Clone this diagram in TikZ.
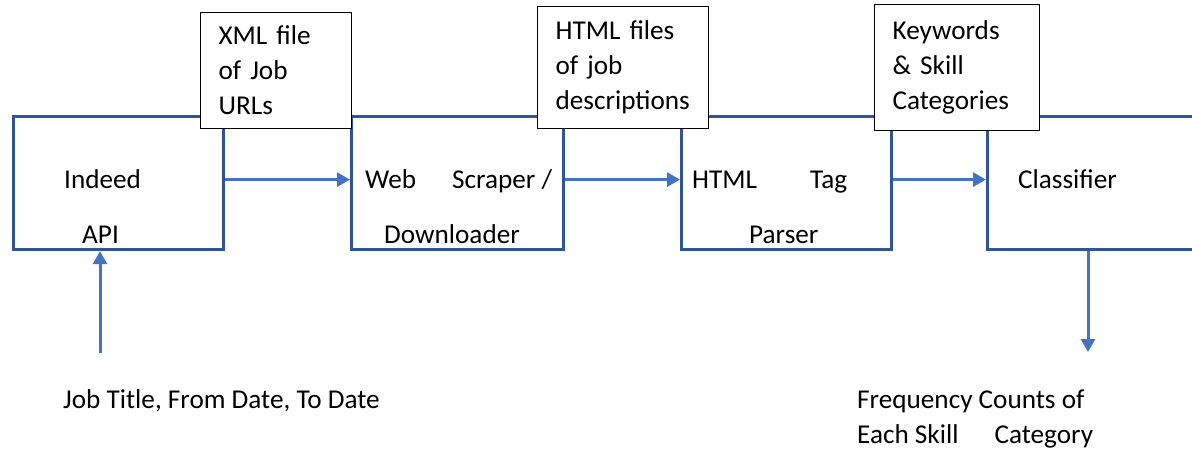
\documentclass[tikz,border=0pt]{standalone}
\usepackage{fontspec}
\setmainfont{Carlito}
\usepackage{xcolor}
\usetikzlibrary{arrows.meta}
\definecolor{boxblue}{HTML}{2F5597}
\definecolor{flowblue}{HTML}{4472C4}

\begin{document}
\begin{tikzpicture}[x=1pt, y=-1pt, font=\fontsize{27.2}{35}\selectfont,
      procbox/.style={draw=boxblue, line width=3.2pt, anchor=north west,
        minimum height=133pt, inner sep=0pt},
      labelbox/.style={draw=black, line width=1.2pt, fill=white, anchor=north west,
        align=left, inner xsep=18pt, inner ysep=0pt},
      flow/.style={draw=flowblue, line width=3pt, -{Triangle[length=13pt, width=14pt]}},
      word/.style={anchor=base west, inner sep=0pt}]
    \clip (0,0) rectangle (1192,450);
    \fill[white] (0,0) rectangle (1192,450);
    % processing stages
    \node[procbox, minimum width=210pt] (api) at (12,115) {};
    \node[procbox, minimum width=212pt] (scraper) at (350,115) {};
    \node[procbox, minimum width=210pt] (parser) at (680,115) {};
    \node[procbox, minimum width=240pt] (classifier) at (986,115) {};
    \node[word] (apia) at (64,188) {Indeed};
    \node[word] (apib) at (82,243) {API};
    \node[word] (scrapera) at (365,188) {Web};
    \node[word] (scraperb) at (452,188) {Scraper /};
    \node[word] (scraperc) at (384,243) {Downloader};
    \node[word] (parsera) at (692,188) {HTML};
    \node[word] (parserb) at (810,188) {Tag};
    \node[word] (parserc) at (749,243) {Parser};
    \node[word] (classifiera) at (1018,188) {Classifier};
    % data passed between stages
    \foreach \a/\b in {api/scraper, scraper/parser, parser/classifier}{
      \draw[flow] ([yshift=3.5pt]\a.east) -- ([yshift=3.5pt]\b.west);
    }
    \node[labelbox, text width=115pt, minimum height=116pt] (urls) at (200,12)
      {XML file\\ of Job\\ URLs};
    \node[labelbox, text width=135pt, minimum height=122pt] (pages) at (537,6)
      {HTML files\\ of job\\ descriptions};
    \node[labelbox, text width=129pt, minimum height=126pt] (skills) at (874,4)
      {Keywords\\ \& Skill\\ Categories};
    % input and output
    \coordinate (query) at (100,353);
    \coordinate (counts) at (1088,352);
    \draw[flow] (query) -- (api.south -| query);
    \draw[flow] (classifier.south -| counts) -- (counts);
    \node[word] (querytext) at (63,408) {Job Title, From Date, To Date};
    \node[word] (countsa) at (857,408) {Frequency Counts of};
    \node[word] (countsb) at (857,443) {Each Skill\hspace{36pt}Category};
  \end{tikzpicture}
\end{document}
